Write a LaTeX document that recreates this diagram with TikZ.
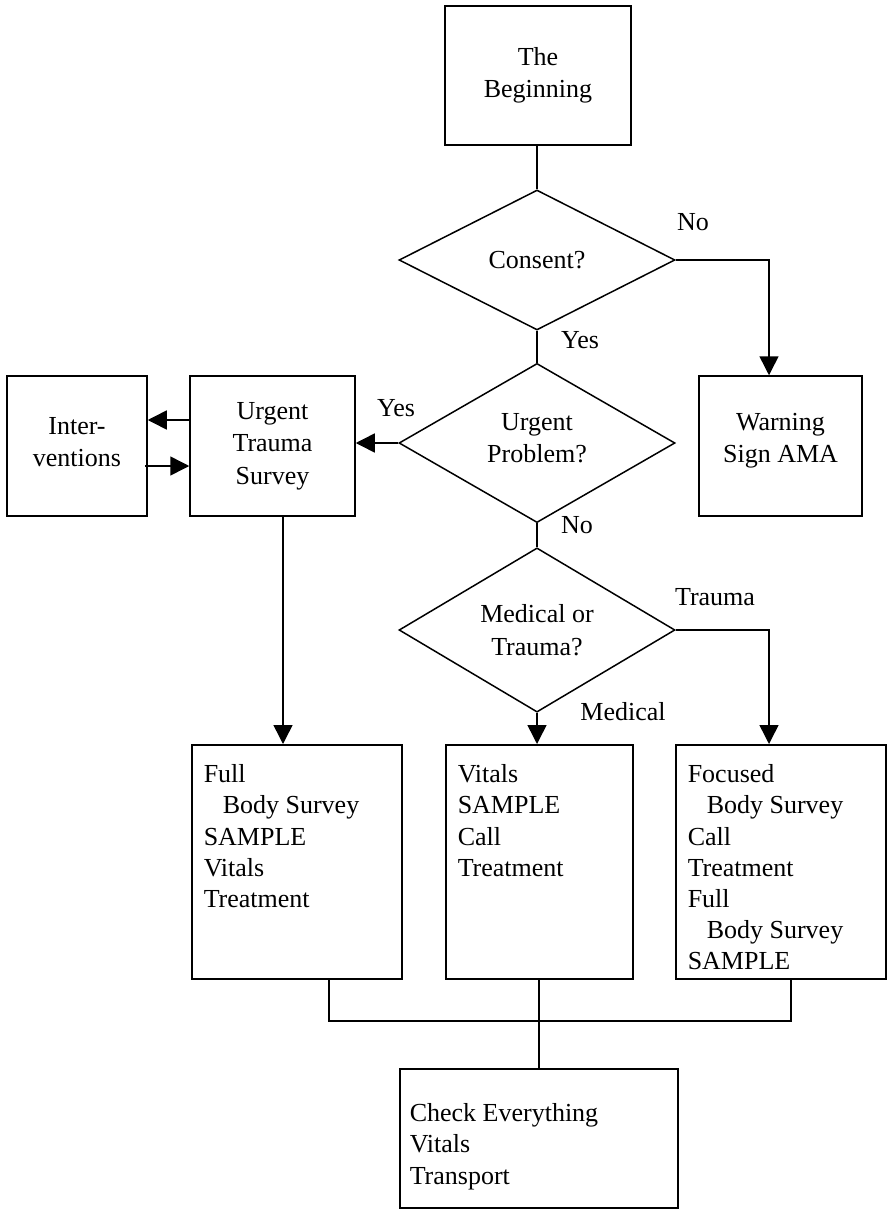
\documentclass[tikz,border=0pt]{standalone}
\usepackage{fontspec}
\setmainfont{Liberation Serif}
\usetikzlibrary{arrows.meta,shapes.geometric,calc}
\begin{document}
\begin{tikzpicture}[x=1pt,y=-1pt,
  every node/.style={font=\fontsize{26}{32.5}\selectfont},
  ln/.style={line width=1.5pt},
  arr/.style={ln, -{Triangle[length=19pt,width=19pt]}},
  cbox/.style={draw, line width=1.5pt, align=center, inner sep=0pt},
  lbox/.style={draw, line width=1.5pt, anchor=north west, inner xsep=12pt, inner ysep=0pt, font=\fontsize{26}{31.2}\selectfont},
  dia/.style={draw, diamond, line width=1.5pt, minimum width=276pt, minimum height=140pt, inner sep=0pt, align=center},
  lab/.style={inner sep=0pt}
]
\fill[white] (0,0) rectangle (888,1209);
\useasboundingbox (0,0) rectangle (888,1209);

\node[cbox, minimum width=186pt, minimum height=139pt] (begin) at (538,75.5) {The\\Beginning};
\node[dia] (consent) at (537,260) {Consent?};
\node[dia] (urgent) at (537,443) {Urgent\\Problem?\rule[-10pt]{0pt}{0pt}};
\node[dia] (medq) at (537,630) {Medical or\\Trauma?};
\node[cbox, minimum width=163pt, minimum height=140pt] (warn) at (780.5,446) {Warning\\Sign AMA\rule[-16pt]{0pt}{0pt}};
\node[cbox, minimum width=165pt, minimum height=140pt] (utbox) at (272.5,446) {Urgent\\Trauma\\Survey};
\node[cbox, minimum width=140pt, minimum height=140pt] (interv) at (77,446) {Inter-\\ventions\rule[-8pt]{0pt}{0pt}};

\node[lbox] (full) at (191,744) {\parbox[c][234pt][t]{186pt}{\vspace*{16pt}\strut Full\\\hspace*{19pt}Body Survey\\SAMPLE\\Vitals\\Treatment}};
\node[lbox] (mid) at (445,744) {\parbox[c][234pt][t]{163pt}{\vspace*{16pt}\strut Vitals\\SAMPLE\\Call\\Treatment}};
\node[lbox] (right) at (675,744) {\parbox[c][234pt][t]{186pt}{\vspace*{16pt}\strut Focused\\\hspace*{19pt}Body Survey\\Call\\Treatment\\Full\\\hspace*{19pt}Body Survey\\SAMPLE}};
\node[lbox, inner xsep=10pt] (bot) at (399,1068) {\parbox[c][139pt][t]{258pt}{\vspace*{31pt}\strut Check Everything\\Vitals\\Transport}};

\node[lab] (lno1) at (693,222) {No};
\node[lab] (lyes1) at (580,340) {Yes};
\node[lab] (lyes2) at (396,408) {Yes};
\node[lab] (lno2) at (577,525) {No};
\node[lab] (ltr) at (715,597) {Trauma};
\node[lab] (lmed) at (623,712) {Medical};

\coordinate (c1) at (769,260);
\coordinate (c2) at (769,630);
\coordinate (u1) at (283,516);
\coordinate (j1) at (329,1021);
\coordinate (j2) at (791,1021);

\draw[ln] (consent.north |- begin.south) -- (consent.north);
\draw[arr] (consent.east) -- (c1) -- (c1 |- warn.north);
\draw[ln] (consent.south) -- (urgent.north);
\draw[arr] (urgent.west) -- (urgent.west -| utbox.east);
\draw[arr] ([yshift=26pt]utbox.west) -- ([yshift=26pt]interv.east);
\draw[arr] ([yshift=-20pt,xshift=-3pt]interv.east) -- ([yshift=-20pt]utbox.west);
\draw[arr] (u1) -- (u1 |- full.north);
\draw[ln] (urgent.south) -- (medq.north);
\draw[arr] (medq.south) -- (medq.south |- mid.north);
\draw[arr] (medq.east) -- (c2) -- (c2 |- right.north);
\draw[ln] (j1 |- full.south) -- (j1) -- (j2) -- (j2 |- right.south);
\draw[ln] (bot.north |- mid.south) -- (bot.north);
\end{tikzpicture}
\end{document}
